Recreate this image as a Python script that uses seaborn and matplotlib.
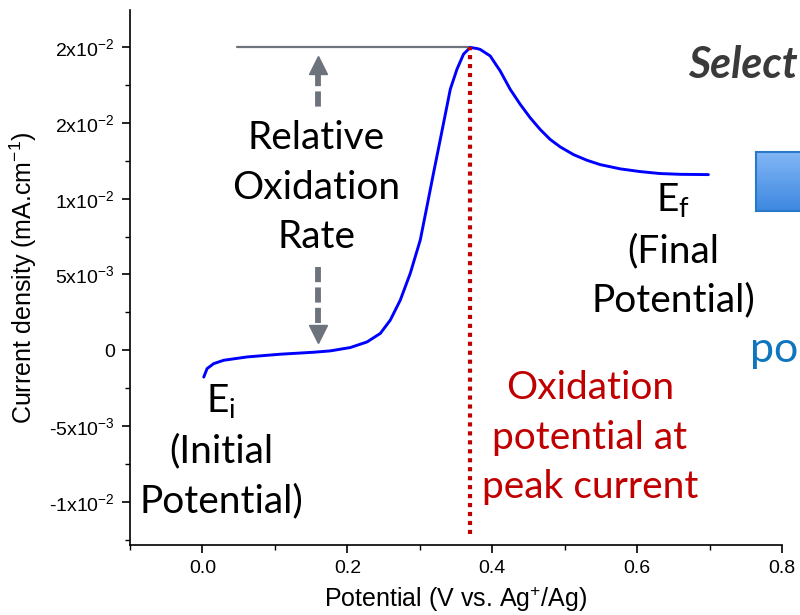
import numpy as np
import pandas as pd
import matplotlib
matplotlib.use("Agg")
import matplotlib.pyplot as plt
import seaborn as sns
from matplotlib.ticker import FixedLocator, FixedFormatter, MultipleLocator

# ---- data ----
potential = [0.0018, 0.0064, 0.0156, 0.0294, 0.0616, 0.1076, 0.1536, 0.1766, 0.2041, 0.2272,
             0.2455, 0.2593, 0.2731, 0.2869, 0.3007, 0.3099, 0.3190, 0.3283, 0.3375, 0.3421,
             0.3513, 0.3604, 0.3697, 0.3789, 0.3834, 0.3972, 0.4110, 0.4248, 0.4386, 0.4524,
             0.4662, 0.4800, 0.4938, 0.5122, 0.5306, 0.5490, 0.5766, 0.6041, 0.6317, 0.6593,
             0.6984]
current = [-0.00177, -0.00121, -0.00088, -0.00066, -0.00044, -0.00026, -0.00013, -0.00004, 0.00018, 0.00055,
           0.00111, 0.00199, 0.00331, 0.00508, 0.00728, 0.00949, 0.0117, 0.01391, 0.01611, 0.01722,
           0.01854, 0.01954, 0.01998, 0.01991, 0.01985, 0.01942, 0.01843, 0.01722, 0.01623, 0.01534,
           0.01457, 0.01391, 0.01342, 0.01291, 0.01254, 0.01225, 0.01197, 0.01179, 0.01166, 0.01161,
           0.01159]

x_ticks = [0.0, 0.2, 0.4, 0.6, 0.8]
x_tick_labels = ["0.0", "0.2", "0.4", "0.6", "0.8"]
y_ticks = [-0.01, -0.005, 0.0, 0.005, 0.01, 0.015, 0.02]
y_tick_labels = ["-1x10$^{-2}$", "-5x10$^{-3}$", "0", "5x10$^{-3}$",
                 "1x10$^{-2}$", "2x10$^{-2}$", "2x10$^{-2}$"]

peak_potential = 0.3697
peak_current = 0.0200
baseline_start = 0.048

df = pd.DataFrame({"Potential": potential, "Current": current})

sns.set_theme(style="ticks")
plt.rcParams["font.family"] = ["Liberation Sans", "DejaVu Sans"]
plt.rcParams["mathtext.default"] = "regular"
plt.rcParams["text.color"] = "black"
plt.rcParams["axes.labelcolor"] = "black"

fig = plt.figure(figsize=(8.0, 6.15), dpi=100)
ax = fig.add_axes([0.1625, 0.1138, 0.815, 0.8699])

sns.lineplot(data=df, x="Potential", y="Current", ax=ax, color="#0000ff",
             linewidth=2.1, sort=False, estimator=None, zorder=3)

ax.set_xlim(-0.1, 0.8)
ax.set_ylim(-0.01285, 0.02245)

ax.xaxis.set_major_locator(FixedLocator(x_ticks))
ax.xaxis.set_major_formatter(FixedFormatter(x_tick_labels))
ax.xaxis.set_minor_locator(MultipleLocator(0.1))
ax.yaxis.set_major_locator(FixedLocator(y_ticks))
ax.yaxis.set_major_formatter(FixedFormatter(y_tick_labels))
ax.yaxis.set_minor_locator(MultipleLocator(0.0025))

ax.tick_params(which="major", direction="out", length=6, width=1.2, labelsize=14,
               colors="black", labelcolor="black", pad=5)
ax.tick_params(which="minor", direction="out", length=3.5, width=1.0, colors="black")
for s in ["top", "right"]:
    ax.spines[s].set_visible(False)
for s in ["left", "bottom"]:
    ax.spines[s].set_linewidth(1.2)
    ax.spines[s].set_color("black")

ax.set_xlabel("Potential (V vs. Ag$^{+}$/Ag)", fontsize=18, labelpad=5, color="black")
ax.set_ylabel("Current density (mA.cm$^{-1}$)", fontsize=18, labelpad=7, color="black")

# horizontal reference at peak
gray = "#6c737b"
ax.plot([baseline_start, peak_potential], [peak_current, peak_current],
        color=gray, lw=1.6, zorder=2)
# red dotted vertical at peak potential
ax.plot([peak_potential, peak_potential], [-0.0121, peak_current],
        color="#c00000", lw=3.0, linestyle=(0, (1, 1.15)), dash_capstyle="butt", zorder=4)

# dashed double arrow (two pieces)
arrow_x = 0.159
ax.plot([arrow_x, arrow_x], [0.0184, 0.0160], color=gray, lw=4.2, linestyle=(0, (2.6, 0.9)),
        dash_capstyle="butt", zorder=2)
ax.plot([arrow_x], [0.0188], marker="^", markersize=13, color=gray, zorder=2)
ax.plot([arrow_x, arrow_x], [0.0055, 0.0015], color=gray, lw=4.2, linestyle=(0, (2.6, 0.9)),
        dash_capstyle="butt", zorder=2)
ax.plot([arrow_x], [0.0011], marker="v", markersize=13, color=gray, zorder=2)

anno_font = ["Lato", "DejaVu Sans"]
fs = 28
ls = 1.47
ax.text(0.157, 0.01073, "Relative\nOxidation\nRate", ha="center", va="center",
        fontsize=fs, family=anno_font, linespacing=ls, color="black")
ax.text(0.026, -0.00662, "E$_{i}$\n(Initial\nPotential)", ha="center", va="center",
        fontsize=fs, family=anno_font, linespacing=ls, color="black")
ax.text(0.65, 0.00662, "E$_{f}$\n(Final\nPotential)", ha="center", va="center",
        fontsize=fs, family=anno_font, linespacing=ls, color="black")
ax.text(0.535, -0.00576, "Oxidation\npotential at\npeak current", ha="center", va="center",
        fontsize=fs, family=anno_font, linespacing=ls, color="#c00000")

# cropped slide elements at the right edge
fig.text(688 / 800, 1 - 65 / 615, "Select", ha="left", va="center", fontsize=31,
         family=anno_font, style="italic", weight="bold", color="#3a3a3a")
fig.text(750 / 800, 1 - 350 / 615, "po", ha="left", va="center", fontsize=31,
         family=anno_font, color="#0f75bd")

bax = fig.add_axes([756 / 800, 1 - 211 / 615, 0.08, 59 / 615])
grad = np.linspace(0, 1, 64).reshape(-1, 1)
cmap = matplotlib.colors.LinearSegmentedColormap.from_list("b", ["#82b6f6", "#3d88e0"])
bax.imshow(grad, aspect="auto", cmap=cmap, extent=[0, 1, 0, 1], origin="upper")
bax.set_xticks([])
bax.set_yticks([])
for s in bax.spines.values():
    s.set_color("#2a78c8")
    s.set_linewidth(1.5)

fig.savefig("out.png", dpi=100)
